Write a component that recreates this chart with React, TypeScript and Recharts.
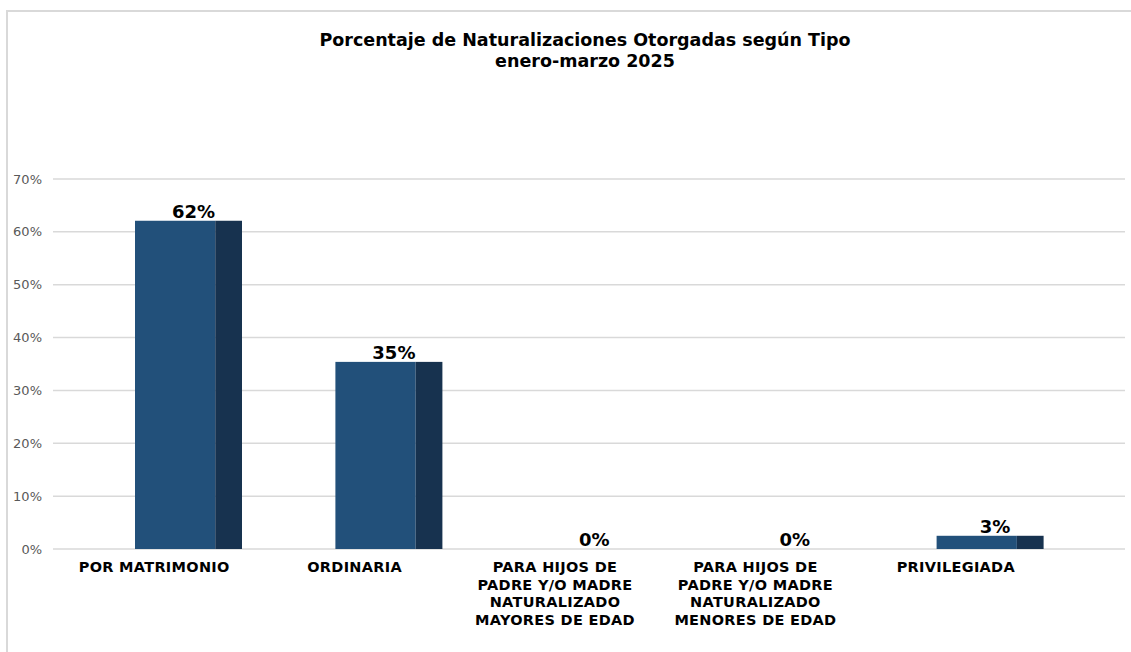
import { Bar, BarChart, CartesianGrid, LabelList, XAxis, YAxis } from "recharts";

const categories = [
  "POR MATRIMONIO",
  "ORDINARIA",
  "PARA HIJOS DE\nPADRE Y/O MADRE\nNATURALIZADO\nMAYORES DE EDAD",
  "PARA HIJOS DE\nPADRE Y/O MADRE\nNATURALIZADO\nMENORES DE EDAD",
  "PRIVILEGIADA",
];
const percentages = [62.1, 35.4, 0, 0, 2.5];
const yTicks = [0, 10, 20, 30, 40, 50, 60, 70];

const chartData = categories.map((name, i) => ({ name, value: percentages[i] }));

const FONT = "'DejaVu Sans', Verdana, sans-serif";
const FRONT = "#22507A";
const SIDE = "#17324F";

// front face + darker side, a flat take on the excel 3d column
const ColumnShape = (props: any) => {
  const { x, y, width, height } = props;
  if (!height || height <= 0) return null;
  const front = width * 0.75;
  return (
    <g>
      <rect x={x} y={y} width={front} height={height} fill={FRONT} />
      <rect x={x + front} y={y} width={width - front} height={height} fill={SIDE} />
    </g>
  );
};

const CategoryTick = (props: any) => {
  const { x, y, payload } = props;
  const lines = String(payload.value).split("\n");
  return (
    <text
      x={x - 34}
      y={y}
      textAnchor="middle"
      fontFamily={FONT}
      fontSize={14.5}
      fontWeight="bold"
      letterSpacing={0.3}
      fill="#000"
    >
      {lines.map((line, i) => (
        <tspan key={i} x={x - 34} dy={i === 0 ? 15 : 17.5}>
          {line}
        </tspan>
      ))}
    </text>
  );
};

const ValueLabel = (props: any) => {
  const { x, y, width, value } = props;
  return (
    <text
      x={x + width / 2 + 5}
      y={y - 3}
      textAnchor="middle"
      fontFamily={FONT}
      fontSize={18}
      fontWeight="bold"
      fill="#000"
    >
      {`${Math.round(value)}%`}
    </text>
  );
};

export default function App() {
  return (
    <div style={{ position: "absolute", left: 0, top: 0, width: 1131, height: 652, background: "#fff" }}>
      <div
        style={{
          position: "absolute",
          left: 6,
          top: 10,
          width: 1131,
          height: 652,
          borderLeft: "2px solid #d9d9d9",
          borderTop: "2px solid #d9d9d9",
        }}
      />
      <div
        style={{
          position: "absolute",
          left: 0,
          top: 30,
          width: 1170,
          textAlign: "center",
          fontFamily: FONT,
          fontWeight: "bold",
          fontSize: 17.5,
          lineHeight: "21px",
          color: "#000",
        }}
      >
        Porcentaje de Naturalizaciones Otorgadas según Tipo
        <br />
        enero-marzo 2025
      </div>
      <div style={{ position: "absolute", left: 0, top: 0 }}>
        <BarChart
          width={1131}
          height={652}
          data={chartData}
          margin={{ top: 179, right: 6, bottom: 23, left: 0 }}
          barSize={107}
        >
          <CartesianGrid horizontal vertical={false} stroke="#d9d9d9" strokeWidth={1.5} />
          <XAxis
            dataKey="name"
            axisLine={false}
            tickLine={false}
            interval={0}
            height={80}
            padding={{ left: 35, right: 35 }}
            tick={<CategoryTick />}
          />
          <YAxis
            width={53}
            domain={[0, 70]}
            ticks={yTicks}
            axisLine={false}
            tickLine={false}
            tickMargin={5}
            tickFormatter={(v) => `${v}%`}
            tick={{ fontFamily: FONT, fontSize: 13, fill: "#595959" }}
          />
          <Bar dataKey="value" shape={<ColumnShape />} isAnimationActive={false}>
            <LabelList dataKey="value" content={<ValueLabel />} />
          </Bar>
        </BarChart>
      </div>
    </div>
  );
}
